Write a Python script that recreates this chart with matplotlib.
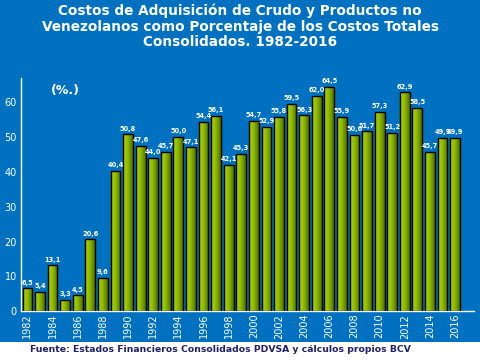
import numpy as np
import matplotlib
matplotlib.use("Agg")
import matplotlib.pyplot as plt
from matplotlib.colors import LinearSegmentedColormap

years = list(range(1982, 2017))
values = [
    6.5, 5.4, 13.1, 3.3, 4.5, 20.6, 9.6, 40.4, 50.8, 47.6,
    44.0, 45.7, 50.0, 47.1, 54.4, 56.1, 42.1, 45.3, 54.7, 52.9,
    55.8, 59.5, 56.3, 62.0, 64.5, 55.9, 50.6, 51.7, 57.3, 51.2,
    62.9, 58.5, 45.7, 49.9, 49.9,
]
title = ("Costos de Adquisición de Crudo y Productos no\n"
         "Venezolanos como Porcentaje de los Costos Totales\n"
         "Consolidados. 1982-2016")
source = "Fuente: Estados Financieros Consolidados PDVSA y cálculos propios BCV"

BLUE = "#0070c0"
green = LinearSegmentedColormap.from_list("g", ["#b5d800", "#8cb800", "#4f7000"])

fig = plt.figure(figsize=(4.8, 3.6), dpi=100)
fig.patch.set_facecolor("white")
# blue panel, white strip at bottom for the source line
fig.add_artist(plt.Rectangle((0, 18 / 360), 1, 1, transform=fig.transFigure,
                             facecolor=BLUE, edgecolor="none", zorder=-10))

ax = fig.add_axes([0.044, 0.136, 0.9435, 0.647])
ax.set_facecolor(BLUE)

x = np.arange(len(years))
width = 0.78
bars = ax.bar(x, values, width=width, facecolor="none", edgecolor="black",
              linewidth=1.0, zorder=3)
grad = np.linspace(0, 1, 64).reshape(1, -1)
for b in bars:
    x0, w, h = b.get_x(), b.get_width(), b.get_height()
    im = ax.imshow(grad, cmap=green, aspect="auto", zorder=2,
                   extent=(x0, x0 + w, 0, h))
    im.set_clip_path(b)

for xi, v in zip(x, values):
    ax.text(xi, v + 0.8, f"{v:.1f}".replace(".", ","), ha="center", va="bottom",
            color="white", fontsize=4.8, fontweight="bold", zorder=4)

ax.set_xlim(-0.5, len(years) + 0.5)
ax.set_ylim(0, 67)
ax.set_yticks(range(0, 61, 10))
ax.set_xticks(x)
ax.set_xticklabels([str(y) if (y % 2 == 0) else "" for y in years],
                   rotation=90, fontsize=7, color="white")
ax.tick_params(axis="y", colors="white", labelsize=7, length=0, pad=3)
ax.tick_params(axis="x", colors="white", direction="in", length=2, pad=2)
for s in ["top", "right"]:
    ax.spines[s].set_visible(False)
for s in ["left", "bottom"]:
    ax.spines[s].set_color("white")
    ax.spines[s].set_linewidth(1.0)

ax.text(0.065, 0.975, "(%.)", transform=ax.transAxes, color="white",
        fontsize=9, fontweight="bold", ha="left", va="top")

fig.text(0.5, 0.99, title, ha="center", va="top", color="white",
         fontsize=9.8, fontweight="bold", linespacing=1.15)
fig.text(0.062, 0.03, source, ha="left", va="center", color="#1f1f66",
         fontsize=6.65, fontweight="bold")

fig.savefig("out.png", dpi=100, facecolor=fig.get_facecolor())
